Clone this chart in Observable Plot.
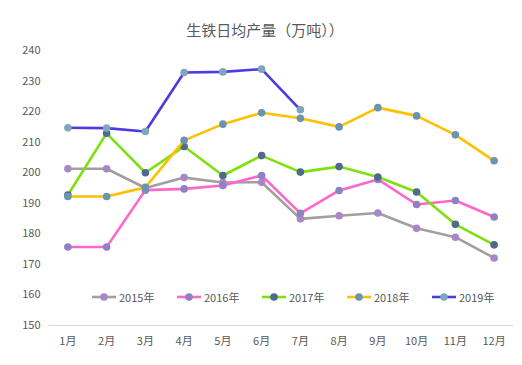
<!DOCTYPE html>
<html>
<head>
<meta charset="utf-8">
<script src="https://cdn.jsdelivr.net/npm/d3@7"></script>
<script src="https://cdn.jsdelivr.net/npm/@observablehq/plot@0.6"></script>
<style>
  body { margin: 0; background: #fff; font-family: "Noto Sans CJK SC", "Noto Sans", sans-serif; }
  #wrap { position: relative; width: 522px; height: 365px; }
  #title { position: absolute; top: 20px; left: 0; width: 522px; height: 20px; line-height: 20px; font-size: 15px; color: #595959; text-align: center; padding-left: 8px; box-sizing: border-box; }
  #chart { position: absolute; top: 32px; left: 0; }
  #legend { position: absolute; top: 289px; left: 92px; display: flex; font-size: 11px; color: #595959; }
  .item { display: flex; align-items: center; width: 85px; }
  .item svg { margin-right: 3px; }
</style>
</head>
<body>
<div id="wrap">
  <div id="title">生铁日均产量（万吨））</div>
  <div id="chart"></div>
  <div id="legend"></div>
</div>
<script>
const months = ["1月","2月","3月","4月","5月","6月","7月","8月","9月","10月","11月","12月"];
const seriesNames = ["2015年","2016年","2017年","2018年","2019年"];
const y2015 = [201.3, 201.3, 195.0, 198.4, 196.8, 196.9, 184.9, 185.9, 186.8, 181.8, 178.9, 172.1];
const y2016 = [175.7, 175.7, 194.3, 194.7, 195.8, 199.1, 186.7, 194.2, 197.8, 189.6, 190.9, 185.5];
const y2017 = [192.7, 212.9, 200.0, 208.6, 199.1, 205.6, 200.2, 202.0, 198.6, 193.7, 183.1, 176.4];
const y2018 = [192.2, 192.2, 195.2, 210.6, 215.9, 219.6, 217.8, 215.0, 221.3, 218.6, 212.4, 203.9];
const y2019 = [214.7, 214.6, 213.5, 232.8, 233.0, 233.9, 220.6];
const yTicks = [150, 160, 170, 180, 190, 200, 210, 220, 230, 240];
const lineColors = ["#a59e9e", "#ff66cc", "#7ce10e", "#ffc000", "#4b3be0"];
const markerColors = ["#a887c7", "#8c82c4", "#4f6a8c", "#6b94b0", "#7fa6ba"];

const allSeries = [y2015, y2016, y2017, y2018, y2019];
const rows = allSeries.flatMap((vals, i) => vals.map((v, j) => ({series: seriesNames[i], month: months[j], value: v})));

const marks = [Plot.ruleY([150], {stroke: "#d9d9d9", strokeWidth: 1})];
seriesNames.forEach((s, i) => {
  const d = rows.filter(r => r.series === s);
  marks.push(Plot.line(d, {x: "month", y: "value", stroke: lineColors[i], strokeWidth: 2.6}));
  marks.push(Plot.dot(d, {x: "month", y: "value", r: 3.8, fill: markerColors[i], stroke: "none"}));
});

const chart = Plot.plot({
  width: 522,
  height: 333,
  marginTop: 18,
  marginBottom: 40,
  marginLeft: 48,
  marginRight: 9,
  style: {fontFamily: '"Noto Sans CJK SC", "Noto Sans", sans-serif', fontSize: "11px", color: "#595959", background: "transparent"},
  x: {type: "point", domain: months, padding: 0.5, round: false, label: null, tickSize: 0, tickPadding: 12},
  y: {domain: [150, 240], ticks: yTicks, label: null, tickSize: 0, tickPadding: 8},
  marks
});
document.getElementById("chart").appendChild(chart);

const legend = document.getElementById("legend");
seriesNames.forEach((s, i) => {
  const item = document.createElement("div");
  item.className = "item";
  item.innerHTML = `<svg width="24" height="10"><line x1="0" x2="24" y1="5" y2="5" stroke="${lineColors[i]}" stroke-width="2.6"/><circle cx="12" cy="5" r="3.8" fill="${markerColors[i]}"/></svg><span>${s}</span>`;
  legend.appendChild(item);
});
</script>
</body>
</html>
